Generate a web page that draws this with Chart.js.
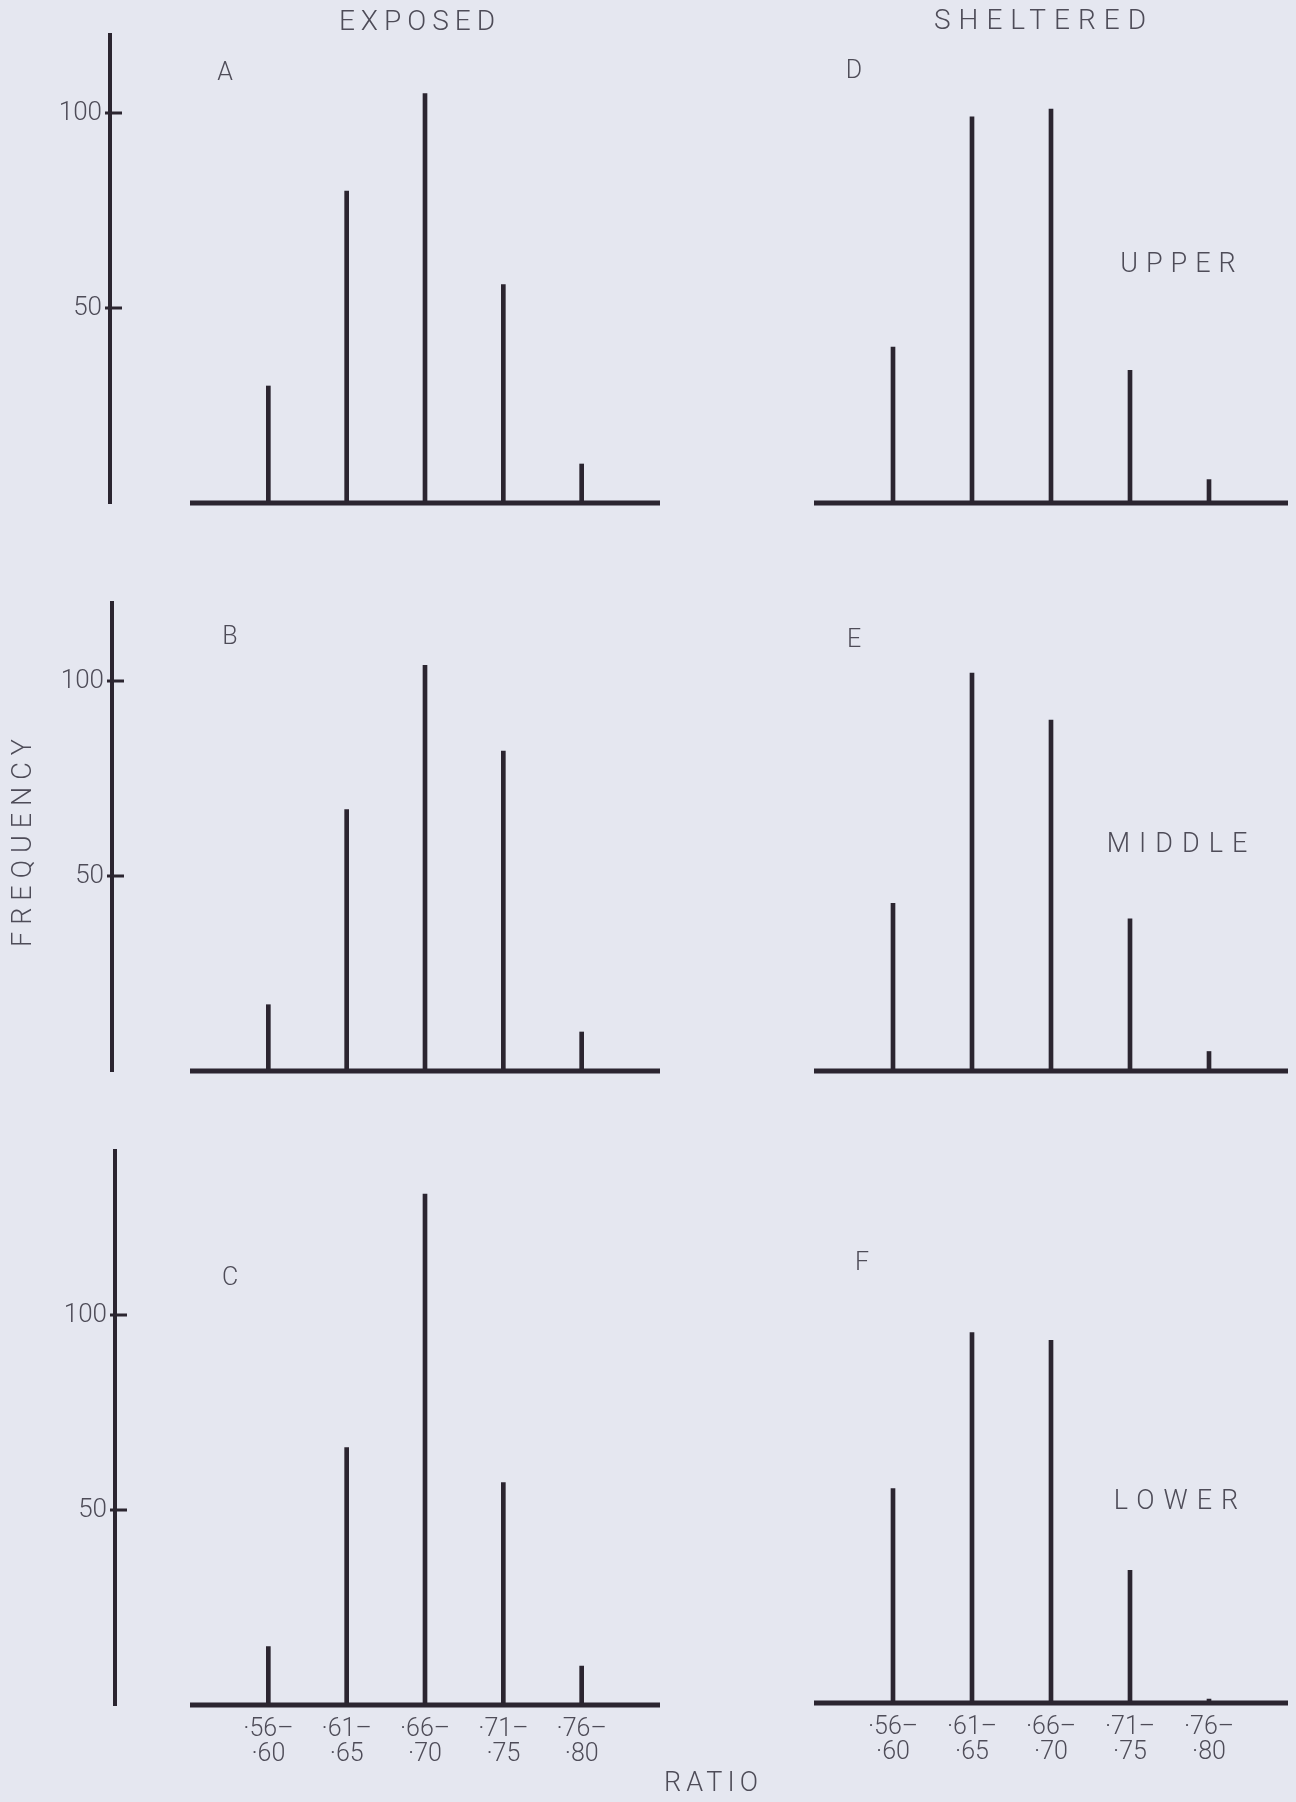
<!DOCTYPE html>
<html>
<head>
<meta charset="utf-8">
<title>Ratio frequency – exposed and sheltered</title>
<script src="https://cdn.jsdelivr.net/npm/chart.js@4.4.1/dist/chart.umd.min.js"></script>
<style>
  html, body { margin: 0; padding: 0; background: #e5e7f0; }
  body { width: 1296px; height: 1802px; position: relative; overflow: hidden; }
  canvas { position: absolute; }
</style>
</head>
<body>
<script>
// ratio classes (two-line tick labels)
const categories = [['·56–', '·60'], ['·61–', '·65'], ['·66–', '·70'], ['·71–', '·75'], ['·76–', '·80']];

// frequencies
const exposedUpper = [30, 80, 105, 56, 10];     // A
const exposedMiddle = [17, 67, 104, 82, 10];    // B
const exposedLower = [15, 66, 131, 57, 10];     // C
const shelteredUpper = [40, 99, 101, 34, 6];    // D
const shelteredMiddle = [43, 102, 90, 39, 5];   // E
const shelteredLower = [55, 95, 93, 34, 1];     // F

const yTickValues = [50, 100];

const barColor = '#2b2530';
const textColor = '#4e4c58';
const fontFamily = "Roboto, 'Liberation Sans', sans-serif";
const pxPerUnit = 3.9;
const xMaxValue = categories.length + 1;

// page layout of each panel (plotLeft = y axis, lineStart = where the baseline begins)
const panels = [
  { values: exposedUpper, left: 0, top: 0, width: 770, height: 560, plotLeft: 110, lineStart: 190, plotRight: 660, baseline: 503, yMax: 120, axis: true, showX: false,
    texts: [{ text: 'EXPOSED', x: 417, y: 23, size: 28, spacing: 6 }, { text: 'A', x: 225, y: 74, size: 25 }] },
  { values: exposedMiddle, left: 0, top: 560, width: 770, height: 560, plotLeft: 112, lineStart: 190, plotRight: 660, baseline: 1071, yMax: 120, axis: true, showX: false,
    texts: [{ text: 'B', x: 230, y: 638, size: 25 }, { text: 'FREQUENCY', x: 24, y: 843, size: 27, spacing: 7, rotate: true }] },
  { values: exposedLower, left: 0, top: 1120, width: 770, height: 682, plotLeft: 115, lineStart: 190, plotRight: 660, baseline: 1705, yMax: 142, axis: true, showX: true,
    texts: [{ text: 'C', x: 230, y: 1279, size: 25 }, { text: 'RATIO', x: 711, y: 1784, size: 27, spacing: 5 }] },
  { values: shelteredUpper, left: 770, top: 0, width: 526, height: 560, plotLeft: 44, lineStart: 44, plotRight: 518, baseline: 503, yMax: 120, axis: false, showX: false,
    texts: [{ text: 'SHELTERED', x: 1040, y: 22, size: 28, spacing: 8 }, { text: 'D', x: 854, y: 72, size: 25 }, { text: 'UPPER', x: 1178, y: 265, size: 27, spacing: 8 }] },
  { values: shelteredMiddle, left: 770, top: 560, width: 526, height: 560, plotLeft: 44, lineStart: 44, plotRight: 518, baseline: 1071, yMax: 120, axis: false, showX: false,
    texts: [{ text: 'E', x: 854, y: 641, size: 25 }, { text: 'MIDDLE', x: 1177, y: 845, size: 27, spacing: 9 }] },
  { values: shelteredLower, left: 770, top: 1120, width: 526, height: 682, plotLeft: 44, lineStart: 44, plotRight: 518, baseline: 1703, yMax: 142, axis: false, showX: true,
    texts: [{ text: 'F', x: 862, y: 1264, size: 25 }, { text: 'LOWER', x: 1176, y: 1502, size: 27, spacing: 9 }] }
];

// baseline, inward y tick marks and free text
const figureMarks = {
  id: 'figureMarks',
  afterDraw(chart, args, opts) {
    const { ctx, chartArea } = chart;
    const xs = chart.scales.x, ys = chart.scales.y;
    const y0 = ys.getPixelForValue(0);
    ctx.save();
    ctx.strokeStyle = barColor;
    ctx.lineWidth = 5;
    ctx.beginPath();
    ctx.moveTo(xs.getPixelForValue(0), y0);
    ctx.lineTo(xs.getPixelForValue(xMaxValue), y0);
    ctx.stroke();

    if (opts.axis) {
      ctx.lineWidth = 3;
      yTickValues.forEach(v => {
        const y = ys.getPixelForValue(v);
        ctx.beginPath();
        ctx.moveTo(chartArea.left - 5, y);
        ctx.lineTo(chartArea.left + 12, y);
        ctx.stroke();
      });
    }

    ctx.fillStyle = textColor;
    ctx.textAlign = 'center';
    ctx.textBaseline = 'middle';
    opts.texts.forEach(t => {
      const sp = t.spacing || 0;
      ctx.save();
      ctx.font = `300 ${t.size}px ${fontFamily}`;
      ctx.letterSpacing = sp + 'px';
      ctx.translate(t.x - opts.offsetX, t.y - opts.offsetY);
      if (t.rotate) ctx.rotate(-Math.PI / 2);
      ctx.fillText(t.text, sp / 2, 0);
      ctx.restore();
    });
    ctx.restore();
  }
};

panels.forEach(p => {
  const canvas = document.createElement('canvas');
  canvas.width = p.width;
  canvas.height = p.height;
  canvas.style.left = p.left + 'px';
  canvas.style.top = p.top + 'px';
  document.body.appendChild(canvas);

  const localBaseline = p.baseline - p.top;
  const plotTop = localBaseline - p.yMax * pxPerUnit;
  // x value 0 sits where the baseline starts; left panels keep a gap to the y axis
  const unit = (p.plotRight - p.lineStart) / xMaxValue;
  const xMin = -(p.lineStart - p.plotLeft) / unit;

  new Chart(canvas.getContext('2d'), {
    type: 'bar',
    data: {
      datasets: [{
        data: p.values.map((v, i) => ({ x: i + 1, y: v })),
        backgroundColor: barColor,
        borderWidth: 0,
        barThickness: 4
      }]
    },
    options: {
      responsive: false,
      devicePixelRatio: 1,
      animation: false,
      events: [],
      layout: { padding: { top: plotTop, right: p.width - p.plotRight, left: 0, bottom: 0 } },
      plugins: {
        legend: { display: false },
        tooltip: { enabled: false },
        figureMarks: { texts: p.texts, axis: p.axis, offsetX: p.left, offsetY: p.top }
      },
      scales: {
        x: {
          type: 'linear',
          min: xMin,
          max: xMaxValue,
          offset: false,
          grid: { display: false, drawTicks: false, offset: false },
          border: { display: false },
          afterBuildTicks: s => { s.ticks = categories.map((c, i) => ({ value: i + 1 })); },
          afterFit: s => { s.height = p.height - localBaseline; },
          ticks: {
            display: p.showX,
            autoSkip: false,
            maxRotation: 0,
            minRotation: 0,
            padding: 12,
            color: textColor,
            font: { family: fontFamily, size: 25, weight: '300', lineHeight: 1 },
            callback: (val) => categories[Math.round(val) - 1] || ''
          }
        },
        y: {
          min: 0,
          max: p.yMax,
          grid: { display: false, drawTicks: false },
          border: { display: p.axis, width: 4, color: barColor },
          afterBuildTicks: s => { s.ticks = yTickValues.map(v => ({ value: v })); },
          afterFit: s => { s.width = p.plotLeft; },
          ticks: {
            display: p.axis,
            padding: 8,
            color: textColor,
            font: { family: fontFamily, size: 26, weight: '300' }
          }
        }
      }
    },
    plugins: [figureMarks]
  });
});
</script>
</body>
</html>
